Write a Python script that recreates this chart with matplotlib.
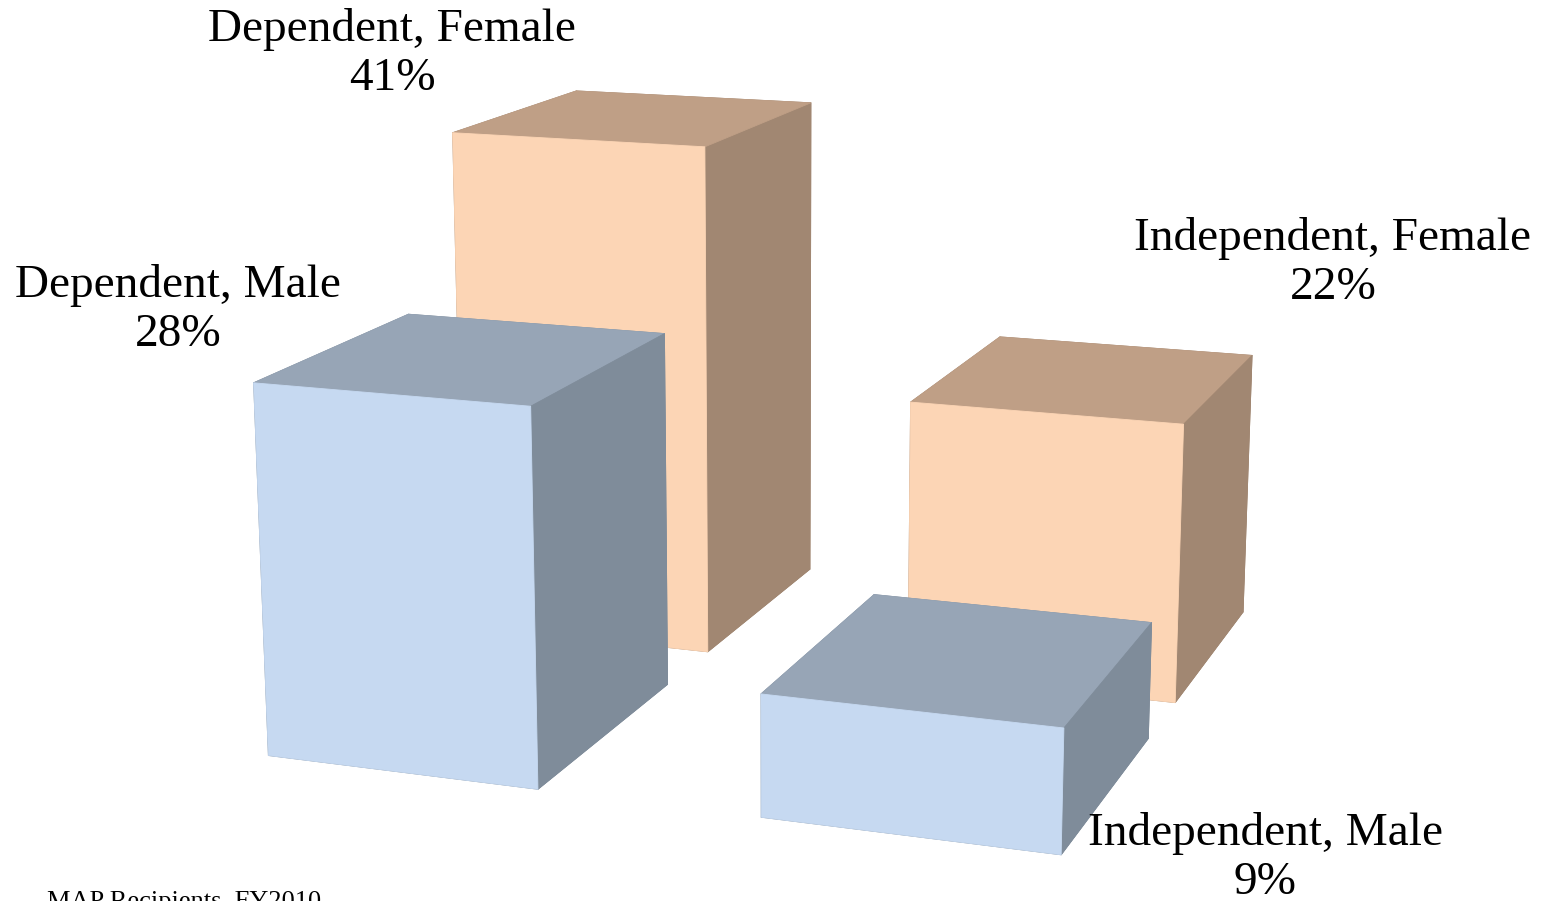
import matplotlib.pyplot as plt

# MAP recipients by dependency status and sex (percent)
groups = ['Dependent', 'Independent']
sexes = ['Male', 'Female']
male_pct = [28, 9]
female_pct = [41, 22]

plt.rcParams['font.family'] = ['Liberation Serif', 'DejaVu Serif']

fig = plt.figure(figsize=(15.42, 9.01), dpi=100)
ax = fig.add_axes([0, 0, 1, 1], projection='3d')
ax.set_proj_type('persp', focal_length=0.68)
ax.view_init(elev=14, azim=-70.5)

w, d = 0.56, 0.74
# face order in bar3d: bottom, top, front, back, left, right
blue = ['#7F8C9A', '#97A5B6', '#C6D9F1', '#7F8C9A', '#7F8C9A', '#7F8C9A']
peach = ['#A18772', '#BF9F86', '#FCD5B5', '#A18772', '#A18772', '#A18772']

ax.computed_zorder = False
# back row (female) first, then the front row (male)
for yi, vals, cols in [(1, female_pct, peach), (0, male_pct, blue)]:
    for xi, v in enumerate(vals):
        bars = ax.bar3d(xi, yi, 0, w, d, v, color=cols, edgecolor=cols,
                        linewidth=0.6, shade=False)
        bars.set_clip_on(False)

ax.set_xlim(-0.225, 1.775)
ax.set_ylim(-0.15, 1.85)
ax.set_zlim(1.4, 37.8)
ax.set_box_aspect((1.96, 1.74, 0.93), zoom=1.526)
ax.set_axis_off()

lab = dict(ha='center', va='center', fontsize=34, linespacing=1.22)
fig.text(392 / 1542, 1 - 54 / 901, f'{groups[0]}, {sexes[1]}\n{female_pct[0]}%', **lab)
fig.text(178 / 1542, 1 - 310 / 901, f'{groups[0]}, {sexes[0]}\n{male_pct[0]}%', **lab)
fig.text(1333 / 1542, 1 - 263 / 901, f'{groups[1]}, {sexes[1]}\n{female_pct[1]}%', **lab)
fig.text(1265 / 1542, 1 - 858 / 901, f'{groups[1]}, {sexes[0]}\n{male_pct[1]}%', **lab)
fig.text(47 / 1542, 1 - 891 / 901, 'MAP Recipients, FY2010', ha='left', va='top', fontsize=19)

fig.savefig('out.png', dpi=100)
